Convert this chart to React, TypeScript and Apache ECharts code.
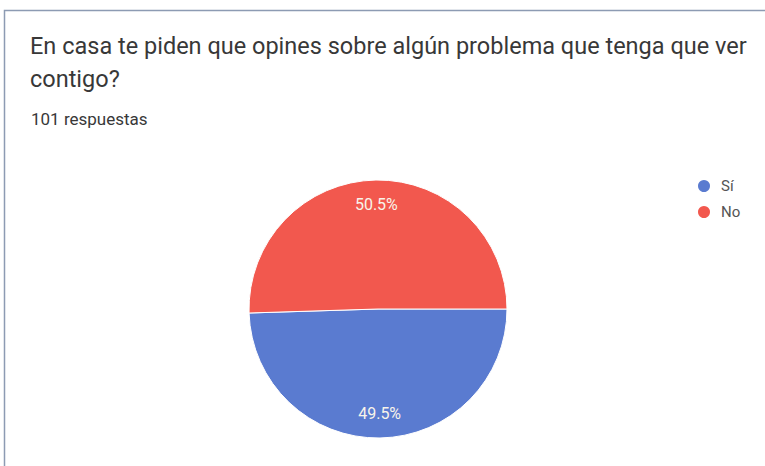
import React, { useEffect, useRef } from "react";
import * as echarts from "echarts";

const titleLines = ["En casa te piden que opines sobre algún problema que tenga que ver", "contigo?"];
const subtitle = "101 respuestas";
const categories = ["Sí", "No"];
const counts = [50, 51];
const colors = ["#5a7bd0", "#f2584e"];

export default function App() {
  const ref = useRef<HTMLDivElement>(null);
  useEffect(() => {
    const chart = echarts.init(ref.current!, null, { renderer: "svg" });
    const data = categories.map((name, i) => ({ name, value: counts[i], itemStyle: { color: colors[i] } }));
    chart.setOption({
      animation: false,
      backgroundColor: "#ffffff",
      textStyle: { fontFamily: "Roboto" },
      title: [
        {
          text: titleLines.join("\n"),
          left: 30,
          top: 29,
          padding: 0,
          textStyle: { fontFamily: "Roboto", fontSize: 23.5, fontWeight: "normal", color: "#383838", lineHeight: 33 },
        },
        {
          text: subtitle,
          left: 31,
          top: 109,
          padding: 0,
          textStyle: { fontFamily: "Roboto", fontSize: 17, fontWeight: "normal", color: "#383838", lineHeight: 20 },
        },
      ],
      legend: {
        orient: "vertical",
        left: 696,
        top: 178,
        padding: 0,
        icon: "circle",
        itemWidth: 14,
        itemHeight: 14,
        itemGap: 10,
        data: categories,
        textStyle: { fontFamily: "Roboto", fontSize: 15, color: "#555555", padding: [0, 0, 0, 5] },
      },
      graphic: [
        {
          type: "rect",
          shape: { x: 4.5, y: 10.5, width: 780, height: 500 },
          style: { fill: "none", stroke: "#8d9bb3", lineWidth: 1.5 },
          silent: true,
        },
      ],
      series: [
        {
          type: "pie",
          center: [378, 309],
          radius: [0, 129],
          startAngle: 0,
          clockwise: true,
          percentPrecision: 1,
          label: { show: false },
          labelLine: { show: false },
          itemStyle: { borderColor: "#ffffff", borderWidth: 1 },
          emphasis: { disabled: true },
          data,
        },
        {
          type: "pie",
          center: [378, 309],
          radius: [74, 129],
          startAngle: 0,
          clockwise: true,
          percentPrecision: 1,
          silent: true,
          itemStyle: { color: "transparent", borderWidth: 0 },
          label: {
            show: true,
            position: "inside",
            formatter: "{d}%",
            fontFamily: "Roboto",
            fontSize: 16,
            color: "#f8f4ea",
          },
          labelLine: { show: false },
          emphasis: { disabled: true },
          data: categories.map((name, i) => ({ name, value: counts[i], itemStyle: { color: "transparent" } })),
        },
      ],
    });
    return () => chart.dispose();
  }, []);
  return <div ref={ref} style={{ position: "fixed", left: 0, top: 0, width: 765, height: 466 }} />;
}
